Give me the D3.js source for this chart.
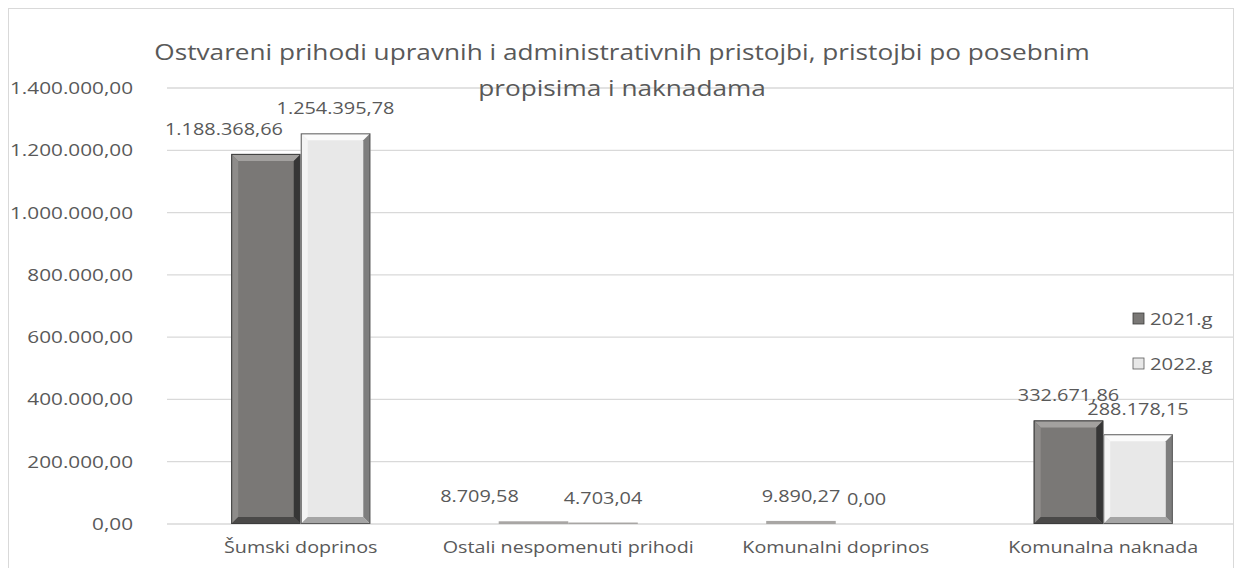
<!DOCTYPE html>
<html>
<head>
<meta charset="utf-8">
<script src="https://cdn.jsdelivr.net/npm/d3@7"></script>
<style>
  body { margin: 0; background: #fff; }
  svg { font-family: "Open Sans", sans-serif; }
  .tick text { fill: #595959; }
</style>
</head>
<body>
<svg id="chart" width="1238" height="568"></svg>
<script>
const categories = ['Šumski doprinos', 'Ostali nespomenuti prihodi', 'Komunalni doprinos', 'Komunalna naknada'];
const values2021 = [1188368.66, 8709.58, 9890.27, 332671.86];
const values2022 = [1254395.78, 4703.04, 0.00, 288178.15];
const seriesNames = ['2021.g', '2022.g'];
const yTicks = [0, 200000, 400000, 600000, 800000, 1000000, 1200000, 1400000];
const titleLines = ['Ostvareni prihodi upravnih i administrativnih pristojbi, pristojbi po posebnim', 'propisima i naknadama'];

// label nudges, like Excel did to avoid overlap
const labelShift = [[-42, 0], [-54, 0], [0, -4], [0, 0]];

const fmt = v => {
  const s = v.toFixed(2).split('.');
  return s[0].replace(/\B(?=(\d{3})+(?!\d))/g, '.') + ',' + s[1];
};

// the source picture is a bit wide, so widen the glyphs to match
const stretch = (sel, k) => sel.each(function () {
  const len = this.getComputedTextLength();
  d3.select(this).attr('textLength', len * k).attr('lengthAdjust', 'spacingAndGlyphs');
});

const margin = { top: 88, right: 1, bottom: 44, left: 167 };
const width = 1238 - margin.left - margin.right;
const height = 568 - margin.top - margin.bottom;

const svg = d3.select('#chart');

// outer border
svg.append('rect')
  .attr('x', 8.5).attr('y', 8.5)
  .attr('width', 1225).attr('height', 600)
  .attr('fill', 'none').attr('stroke', '#d9d9d9');

const g = svg.append('g')
  .attr('transform', `translate(${margin.left}, ${margin.top})`);

const x = d3.scaleBand().domain(categories).range([0, width]).paddingInner(0.48).paddingOuter(0.24);
const xs = d3.scaleBand().domain(seriesNames).range([0, x.bandwidth()]);
const y = d3.scaleLinear().domain([0, 1400000]).range([height, 0]);

// grid
g.selectAll('.grid')
  .data(yTicks)
  .enter()
  .append('line')
  .attr('x1', 0).attr('x2', 1233 - margin.left)
  .attr('y1', d => y(d)).attr('y2', d => y(d))
  .attr('stroke', '#d9d9d9').attr('stroke-width', 1.3);

// y axis labels
const yAxis = g.append('g')
  .call(d3.axisLeft(y).tickValues(yTicks).tickFormat(fmt).tickSize(0).tickPadding(34));
yAxis.select('.domain').remove();
yAxis.selectAll('text').attr('font-size', 17).attr('font-family', '"Open Sans", sans-serif').call(stretch, 1.22);

// x axis labels
const xAxis = g.append('g')
  .attr('transform', `translate(0, ${height})`)
  .call(d3.axisBottom(x).tickSize(0).tickPadding(17));
xAxis.select('.domain').remove();
xAxis.selectAll('text').attr('font-size', 17).attr('font-family', '"Open Sans", sans-serif').call(stretch, 1.16);

// bevelled bars
const styles = [
  { base: '#7a7876', top: '#a3a19f', left: '#8e8c8a', right: '#363636', bottom: '#4a4948', edge: '#3c3c3c' },
  { base: '#e8e8e8', top: '#fbfbfb', left: '#f4f4f4', right: '#7e7e7e', bottom: '#a5a5a5', edge: '#5a5a5a' }
];

const rows = [];
categories.forEach((c, i) => {
  [values2021[i], values2022[i]].forEach((v, s) => {
    rows.push({ cat: c, i, s, v });
  });
});

const bars = g.selectAll('.bar')
  .data(rows.filter(d => d.v > 0))
  .enter()
  .append('g')
  .attr('class', 'bar');

bars.each(function (d) {
  const el = d3.select(this);
  const st = styles[d.s];
  const x0 = x(d.cat) + xs(seriesNames[d.s]);
  const x1 = x0 + xs.bandwidth();
  const y0 = y(d.v);
  const y1 = y(0);
  const h = y1 - y0;
  const b = Math.min(7, h / 2);
  if (h < 4) {
    el.append('rect').attr('x', x0).attr('y', y0).attr('width', x1 - x0).attr('height', h)
      .attr('fill', '#a8a6a4');
    return;
  }
  el.append('rect').attr('x', x0).attr('y', y0).attr('width', x1 - x0).attr('height', h).attr('fill', st.base);
  const poly = (pts, fill) => el.append('polygon').attr('points', pts.map(p => p.join(',')).join(' ')).attr('fill', fill);
  poly([[x0, y0], [x1, y0], [x1 - b, y0 + b], [x0 + b, y0 + b]], st.top);
  poly([[x0, y0], [x0 + b, y0 + b], [x0 + b, y1 - b], [x0, y1]], st.left);
  poly([[x1, y0], [x1, y1], [x1 - b, y1 - b], [x1 - b, y0 + b]], st.right);
  poly([[x0, y1], [x0 + b, y1 - b], [x1 - b, y1 - b], [x1, y1]], st.bottom);
  el.append('rect').attr('x', x0 + 0.5).attr('y', y0 + 0.5).attr('width', x1 - x0 - 1).attr('height', h - 1)
    .attr('fill', 'none').attr('stroke', st.edge).attr('stroke-width', 1);
});

// data labels
g.selectAll('.lbl')
  .data(rows)
  .enter()
  .append('text')
  .attr('x', d => x(d.cat) + xs(seriesNames[d.s]) + xs.bandwidth() / 2 + labelShift[d.i][d.s])
  .attr('y', d => y(d.v) - 19)
  .attr('text-anchor', 'middle')
  .attr('font-size', 17)
  .attr('fill', '#595959')
  .text(d => fmt(d.v))
  .call(stretch, 1.17);

// title
svg.append('text')
  .attr('x', 622).attr('y', 60)
  .attr('text-anchor', 'middle')
  .attr('font-size', 22)
  .attr('fill', '#595959')
  .selectAll('tspan')
  .data(titleLines)
  .enter()
  .append('tspan')
  .attr('x', 622)
  .attr('dy', (d, i) => i ? 36 : 0)
  .text(d => d)
  .call(stretch, 1.19);

// legend
const legend = svg.append('g').attr('transform', 'translate(1133, 318)');
seriesNames.forEach((name, i) => {
  const row = legend.append('g').attr('transform', `translate(0, ${i * 45})`);
  row.append('rect').attr('x', 0).attr('y', -5).attr('width', 11).attr('height', 11)
    .attr('fill', styles[i].base).attr('stroke', styles[i].edge).attr('stroke-width', 0.8);
  row.append('text').attr('x', 17).attr('y', 7).attr('font-size', 17).attr('fill', '#595959').text(name)
    .call(stretch, 1.19);
});
</script>
</body>
</html>
